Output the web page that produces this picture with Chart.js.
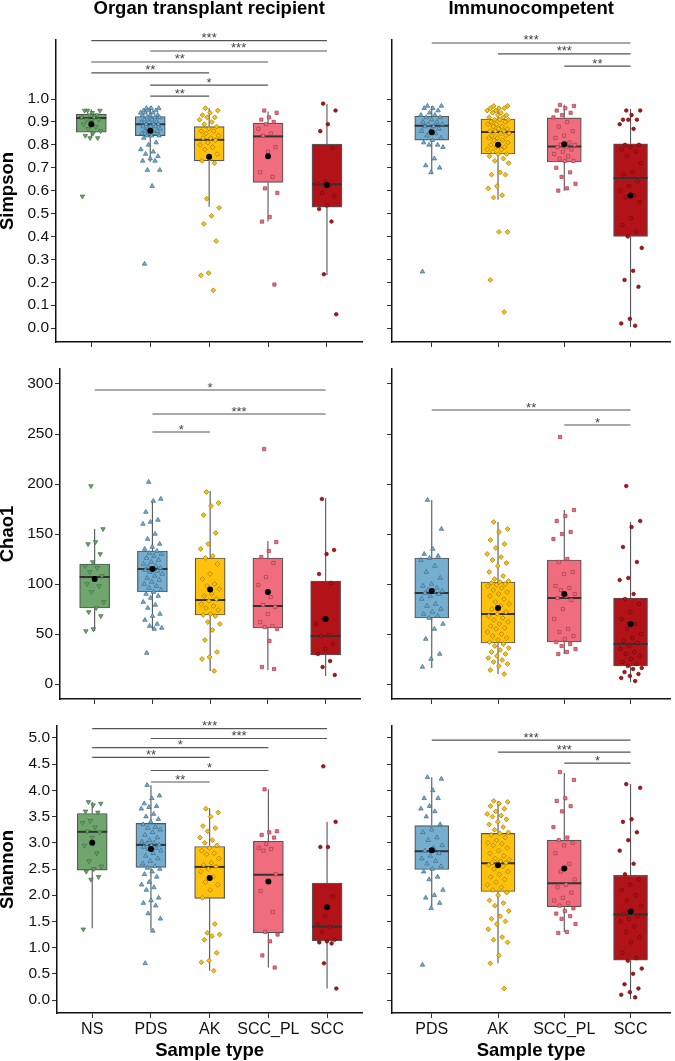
<!DOCTYPE html>
<html>
<head>
<meta charset="utf-8">
<script src="https://cdn.jsdelivr.net/npm/chart.js@4.4.1/dist/chart.umd.min.js"></script>
<style>
  body { margin: 0; background: #fff; width: 675px; height: 1061px; position: relative; overflow: hidden; }
  canvas { position: absolute; }
</style>
</head>
<body>
<canvas id="c0" style="left:0px;top:0px" width="367" height="355"></canvas>
<canvas id="c1" style="left:370px;top:0px" width="305" height="355"></canvas>
<canvas id="c2" style="left:0px;top:355px" width="365" height="357"></canvas>
<canvas id="c3" style="left:370px;top:355px" width="305" height="357"></canvas>
<canvas id="c4" style="left:0px;top:712px" width="367" height="349"></canvas>
<canvas id="c5" style="left:370px;top:712px" width="305" height="349"></canvas>
<script>
// ---- data ----
const groupsOtr = ['NS', 'PDS', 'AK', 'SCC_PL', 'SCC'];
const groupsIc = ['PDS', 'AK', 'SCC_PL', 'SCC'];

const simpsonTicks = [0, 0.1, 0.2, 0.3, 0.4, 0.5, 0.6, 0.7, 0.8, 0.9, 1.0];
const chaoTicks = [0, 50, 100, 150, 200, 250, 300];
const shannonTicks = [0, 0.5, 1.0, 1.5, 2.0, 2.5, 3.0, 3.5, 4.0, 4.5, 5.0];

// box stats: [lower whisker, q1, median, q3, upper whisker]
const simpsonOtrBox = [[0.83, 0.855, 0.917, 0.934, 0.955], [0.725, 0.84, 0.89, 0.924, 0.968], [0.53, 0.73, 0.822, 0.88, 0.96], [0.465, 0.636, 0.837, 0.895, 0.946], [0.232, 0.528, 0.628, 0.803, 0.978]];
const simpsonOtrMean = [0.89, 0.862, 0.748, 0.75, 0.625];
const simpsonIcBox = [[0.672, 0.821, 0.883, 0.925, 0.97], [0.56, 0.76, 0.856, 0.913, 0.968], [0.60, 0.725, 0.793, 0.918, 0.975], [0.005, 0.40, 0.655, 0.805, 0.957]];
const simpsonIcMean = [0.855, 0.80, 0.803, 0.579];

const chaoOtrBox = [[53, 76, 107, 120, 155], [55, 92, 115, 133, 184], [13, 69, 84, 126, 193], [14, 56, 78, 126, 143], [8, 29, 48, 103, 186]];
const chaoOtrMean = [105, 115, 94.5, 92, 65];
const chaoIcBox = [[16, 66, 91, 126, 184], [10, 41, 70, 102, 162], [30, 42, 86, 124, 174], [2, 18, 40, 86, 162]];
const chaoIcMean = [93, 76, 90, 60];

const shannonOtrBox = [[1.37, 2.48, 3.21, 3.56, 3.78], [1.33, 2.53, 2.96, 3.37, 4.1], [0.56, 1.94, 2.54, 2.93, 3.66], [0.62, 1.28, 2.39, 3.03, 4.02], [0.22, 1.13, 1.4, 2.23, 3.4]];
const shannonOtrMean = [3.0, 2.88, 2.33, 2.26, 1.77];
const shannonIcBox = [[1.75, 2.49, 2.84, 3.33, 4.25], [0.7, 2.07, 2.61, 3.18, 3.8], [1.3, 1.78, 2.23, 3.05, 4.33], [0.02, 0.76, 1.63, 2.38, 4.12]];
const shannonIcMean = [2.86, 2.57, 2.51, 1.69];

// individual samples per group
const simpsonOtrPts = [
  [0.95, 0.95, 0.94, 0.95, 0.93, 0.93, 0.92, 0.92, 0.91, 0.91, 0.90, 0.89, 0.88, 0.87, 0.86, 0.85, 0.84, 0.83, 0.83, 0.575],
  [0.96, 0.96, 0.96, 0.95, 0.95, 0.95, 0.94, 0.94, 0.94, 0.93, 0.93, 0.93, 0.92, 0.92, 0.92, 0.91, 0.91, 0.90, 0.90, 0.90, 0.89, 0.89, 0.89, 0.88, 0.88, 0.88, 0.87, 0.87, 0.86, 0.86, 0.86, 0.85, 0.85, 0.85, 0.84, 0.84, 0.84, 0.83, 0.81, 0.80, 0.78, 0.77, 0.76, 0.75, 0.74, 0.73, 0.73, 0.69, 0.69, 0.62, 0.28],
  [0.96, 0.95, 0.94, 0.93, 0.92, 0.92, 0.91, 0.90, 0.89, 0.88, 0.87, 0.86, 0.86, 0.85, 0.84, 0.83, 0.83, 0.82, 0.81, 0.80, 0.79, 0.78, 0.76, 0.74, 0.73, 0.72, 0.565, 0.525, 0.49, 0.455, 0.38, 0.24, 0.23, 0.165],
  [0.95, 0.94, 0.92, 0.91, 0.90, 0.89, 0.87, 0.85, 0.84, 0.79, 0.77, 0.68, 0.66, 0.61, 0.59, 0.485, 0.465, 0.19],
  [0.98, 0.95, 0.89, 0.86, 0.785, 0.64, 0.63, 0.625, 0.59, 0.575, 0.535, 0.52, 0.465, 0.235, 0.06]
];
const simpsonIcPts = [
  [0.97, 0.97, 0.96, 0.96, 0.95, 0.94, 0.93, 0.93, 0.92, 0.92, 0.91, 0.90, 0.90, 0.89, 0.89, 0.88, 0.88, 0.87, 0.86, 0.86, 0.85, 0.84, 0.83, 0.82, 0.81, 0.80, 0.80, 0.79, 0.74, 0.71, 0.70, 0.68, 0.246],
  [0.97, 0.97, 0.96, 0.96, 0.96, 0.95, 0.95, 0.94, 0.94, 0.93, 0.93, 0.92, 0.92, 0.91, 0.91, 0.91, 0.90, 0.90, 0.89, 0.89, 0.88, 0.88, 0.87, 0.87, 0.86, 0.86, 0.86, 0.85, 0.85, 0.84, 0.84, 0.83, 0.83, 0.82, 0.82, 0.81, 0.80, 0.80, 0.79, 0.79, 0.78, 0.78, 0.77, 0.76, 0.76, 0.75, 0.74, 0.73, 0.72, 0.68, 0.67, 0.67, 0.62, 0.61, 0.58, 0.57, 0.42, 0.42, 0.21, 0.07],
  [0.975, 0.97, 0.96, 0.95, 0.94, 0.93, 0.92, 0.90, 0.88, 0.86, 0.84, 0.83, 0.81, 0.80, 0.80, 0.79, 0.79, 0.78, 0.77, 0.76, 0.75, 0.74, 0.73, 0.73, 0.70, 0.68, 0.66, 0.63, 0.61, 0.60],
  [0.95, 0.95, 0.93, 0.91, 0.91, 0.91, 0.89, 0.87, 0.80, 0.80, 0.79, 0.78, 0.77, 0.75, 0.72, 0.68, 0.67, 0.64, 0.62, 0.60, 0.58, 0.57, 0.55, 0.48, 0.45, 0.42, 0.40, 0.35, 0.25, 0.21, 0.18, 0.04, 0.02, 0.01]
];
const chaoOtrPts = [
  [198, 155, 142, 140, 130, 122, 118, 116, 112, 108, 105, 100, 98, 92, 82, 76, 72, 68, 55, 53],
  [202, 185, 183, 172, 164, 162, 160, 150, 145, 140, 137, 135, 133, 131, 130, 128, 126, 124, 122, 120, 118, 117, 116, 115, 114, 113, 112, 110, 108, 106, 104, 102, 100, 98, 96, 94, 92, 90, 88, 86, 82, 79, 76, 70, 68, 64, 60, 58, 56, 55, 31],
  [192, 181, 178, 169, 151, 140, 135, 128, 126, 120, 110, 105, 100, 98, 95, 90, 88, 85, 83, 80, 78, 76, 74, 70, 69, 68, 62, 60, 54, 44, 32, 27, 25, 13],
  [235, 142, 133, 127, 121, 107, 99, 87, 79, 77, 70, 62, 58, 57, 55, 43, 17, 15],
  [185, 134, 130, 110, 101, 65, 60, 49, 48, 40, 35, 30, 23, 17, 9]
];
const chaoIcPts = [
  [184, 155, 135, 130, 128, 126, 124, 118, 112, 106, 100, 98, 96, 94, 93, 92, 91, 90, 88, 85, 80, 78, 75, 72, 70, 68, 66, 60, 55, 45, 30, 25, 17],
  [162, 155, 152, 144, 140, 136, 130, 127, 124, 121, 118, 112, 108, 105, 103, 102, 101, 100, 99, 98, 96, 94, 92, 90, 88, 85, 82, 80, 78, 75, 72, 70, 68, 66, 64, 62, 60, 58, 56, 55, 52, 50, 48, 46, 44, 42, 40, 38, 36, 34, 32, 30, 28, 26, 24, 22, 20, 18, 14, 10],
  [247, 174, 168, 163, 152, 150, 145, 125, 122, 112, 110, 98, 96, 94, 90, 88, 86, 84, 75, 65, 55, 52, 48, 45, 42, 40, 38, 35, 32, 30],
  [198, 163, 157, 137, 122, 106, 104, 90, 85, 80, 72, 65, 60, 55, 50, 46, 43, 41, 38, 35, 32, 30, 28, 25, 22, 20, 18, 16, 15, 12, 10, 8, 6, 3]
];
const shannonOtrPts = [
  [3.78, 3.75, 3.72, 3.6, 3.58, 3.42, 3.38, 3.3, 3.22, 3.2, 3.1, 2.95, 2.8, 2.65, 2.55, 2.5, 2.45, 2.35, 2.3, 1.35],
  [4.1, 3.9, 3.85, 3.75, 3.7, 3.68, 3.65, 3.55, 3.5, 3.45, 3.4, 3.35, 3.3, 3.28, 3.25, 3.2, 3.15, 3.1, 3.05, 3.02, 3.0, 2.98, 2.96, 2.95, 2.92, 2.9, 2.88, 2.85, 2.8, 2.75, 2.7, 2.65, 2.6, 2.55, 2.52, 2.5, 2.45, 2.4, 2.35, 2.25, 2.2, 2.15, 2.1, 1.95, 1.9, 1.85, 1.8, 1.65, 1.55, 1.32, 0.7],
  [3.65, 3.58, 3.5, 3.32, 3.28, 3.22, 3.1, 3.05, 3.0, 2.95, 2.9, 2.85, 2.8, 2.78, 2.7, 2.62, 2.58, 2.55, 2.5, 2.45, 2.35, 2.25, 2.2, 2.1, 1.95, 1.45, 1.28, 1.25, 1.22, 1.15, 0.9, 0.75, 0.72, 0.56],
  [4.02, 3.22, 3.2, 3.15, 3.1, 2.98, 2.9, 2.88, 2.85, 2.4, 2.25, 2.08, 1.68, 1.3, 1.25, 1.12, 0.85, 0.62],
  [4.46, 3.4, 2.92, 2.92, 1.98, 1.6, 1.45, 1.4, 1.3, 1.15, 1.12, 1.1, 1.08, 0.7, 0.22]
];
const shannonIcPts = [
  [4.25, 4.22, 4.0, 3.85, 3.85, 3.7, 3.65, 3.6, 3.5, 3.35, 3.25, 3.2, 3.1, 3.05, 2.95, 2.9, 2.85, 2.8, 2.75, 2.7, 2.65, 2.6, 2.55, 2.5, 2.45, 2.35, 2.3, 2.1, 2.0, 1.95, 1.85, 1.75, 0.67],
  [3.8, 3.78, 3.75, 3.7, 3.65, 3.6, 3.55, 3.52, 3.5, 3.45, 3.4, 3.35, 3.3, 3.25, 3.2, 3.18, 3.15, 3.1, 3.05, 3.0, 2.98, 2.95, 2.9, 2.85, 2.8, 2.75, 2.7, 2.68, 2.65, 2.62, 2.62, 2.6, 2.58, 2.55, 2.5, 2.45, 2.4, 2.35, 2.3, 2.25, 2.2, 2.15, 2.1, 2.05, 2.0, 1.9, 1.85, 1.8, 1.7, 1.6, 1.55, 1.5, 1.45, 1.35, 1.2, 1.15, 1.1, 0.85, 0.7, 0.22],
  [4.35, 4.2, 3.85, 3.8, 3.7, 3.6, 3.3, 3.1, 3.05, 3.0, 2.95, 2.8, 2.6, 2.45, 2.3, 2.2, 2.15, 2.05, 1.95, 1.9, 1.85, 1.8, 1.75, 1.7, 1.65, 1.6, 1.55, 1.45, 1.3, 1.28],
  [4.12, 4.05, 3.45, 3.4, 3.2, 3.05, 2.85, 2.6, 2.4, 2.3, 2.2, 2.1, 2.0, 1.9, 1.8, 1.7, 1.65, 1.6, 1.55, 1.5, 1.4, 1.3, 1.2, 1.1, 0.9, 0.8, 0.75, 0.6, 0.5, 0.3, 0.22, 0.15, 0.1, 0.05]
];

// significance brackets: [from group, to group, height, label]
const simpsonOtrSig = [[0, 4, 1.255, '***'], [1, 4, 1.21, '***'], [0, 3, 1.162, '**'], [0, 2, 1.114, '**'], [1, 3, 1.061, '*'], [1, 2, 1.013, '**']];
const simpsonIcSig = [[0, 3, 1.245, '***'], [1, 3, 1.197, '***'], [2, 3, 1.144, '**']];
const chaoOtrSig = [[0, 4, 294, '*'], [1, 4, 270, '***'], [1, 2, 252, '*']];
const chaoIcSig = [[0, 3, 274, '**'], [2, 3, 259, '*']];
const shannonOtrSig = [[0, 4, 5.18, '***'], [1, 4, 4.99, '***'], [0, 3, 4.815, '*'], [0, 2, 4.63, '**'], [1, 3, 4.38, '*'], [1, 2, 4.16, '**']];
const shannonIcSig = [[0, 3, 4.96, '***'], [1, 3, 4.73, '***'], [2, 3, 4.52, '*']];

// ---- styling ----
Chart.defaults.font.family = '"Liberation Sans", Arial, Helvetica, sans-serif';
Chart.defaults.color = '#111';

const groupStyle = {
  NS:     { fill: '#6fa66d', edge: '#3d6b3d', shape: 'triangle', rot: 180, r: 2.6 },
  PDS:    { fill: '#76aed0', edge: '#3b6a86', shape: 'triangle', rot: 0,   r: 2.6 },
  AK:     { fill: '#ffc20c', edge: '#9a7400', shape: 'rectRot',  rot: 0,   r: 2.4 },
  SCC_PL: { fill: '#f06d7e', edge: '#a53c4b', shape: 'rect',     rot: 0,   r: 2.3 },
  SCC:    { fill: '#b11318', edge: '#6b0a0d', shape: 'circle',   rot: 0,   r: 1.8 }
};

// spread of the jittered points around each box centre
function jit(k) {
  return ((k * 0.618034 + 0.31) % 1 - 0.5) * 0.34;
}

function boxParts(p) {
  return {
    id: 'boxParts',
    beforeDatasetsDraw(chart) {
      const { ctx, scales: { x, y } } = chart;
      ctx.save();
      ctx.strokeStyle = '#555';
      ctx.lineWidth = 1.1;
      p.box.forEach((b, i) => {
        const px = x.getPixelForValue(i);
        ctx.beginPath();
        ctx.moveTo(px, y.getPixelForValue(b[0]));
        ctx.lineTo(px, y.getPixelForValue(b[1]));
        ctx.moveTo(px, y.getPixelForValue(b[3]));
        ctx.lineTo(px, y.getPixelForValue(b[4]));
        ctx.stroke();
      });
      ctx.restore();
    },
    afterDatasetDraw(chart, args) {
      if (args.index !== 0) return;
      const { ctx, scales: { x, y } } = chart;
      ctx.save();
      ctx.strokeStyle = '#333';
      ctx.lineWidth = 2;
      p.box.forEach((b, i) => {
        const px = x.getPixelForValue(i);
        const py = y.getPixelForValue(b[2]);
        ctx.beginPath();
        ctx.moveTo(px - p.bw / 2, py);
        ctx.lineTo(px + p.bw / 2, py);
        ctx.stroke();
      });
      ctx.restore();
    },
    afterDatasetsDraw(chart) {
      const { ctx, scales: { x, y } } = chart;
      ctx.save();
      ctx.strokeStyle = '#555';
      ctx.fillStyle = '#444';
      ctx.lineWidth = 1.2;
      ctx.font = '13px "Liberation Sans", Arial, sans-serif';
      ctx.textAlign = 'center';
      ctx.textBaseline = 'alphabetic';
      p.sig.forEach(s => {
        const x1 = x.getPixelForValue(s[0]);
        const x2 = x.getPixelForValue(s[1]);
        const py = y.getPixelForValue(s[2]);
        ctx.beginPath();
        ctx.moveTo(x1, py);
        ctx.lineTo(x2, py);
        ctx.stroke();
        ctx.fillText(s[3], (x1 + x2) / 2, py + 1.5);
      });
      ctx.restore();
    }
  };
}

function makeChart(id, p) {
  const datasets = [{
    type: 'bar',
    order: 3,
    data: p.groups.map((g, i) => ({ x: i, y: [p.box[i][1], p.box[i][3]] })),
    backgroundColor: p.groups.map(g => groupStyle[g].fill),
    borderColor: '#555',
    borderWidth: 1.2,
    borderSkipped: false,
    barThickness: p.bw
  }];
  p.groups.forEach((g, i) => {
    const st = groupStyle[g];
    datasets.push({
      type: 'scatter',
      order: 2,
      data: p.pts[i].map((v, k) => ({ x: i + jit(k), y: v })),
      pointStyle: st.shape,
      rotation: st.rot,
      pointRadius: st.r,
      backgroundColor: st.fill,
      borderColor: st.edge,
      borderWidth: 0.7
    });
  });
  datasets.push({
    type: 'scatter',
    order: 1,
    data: p.mean.map((m, i) => ({ x: i, y: m })),
    pointRadius: 3,
    backgroundColor: '#000',
    borderColor: '#000',
    borderWidth: 0
  });

  new Chart(document.getElementById(id), {
    type: 'scatter',
    data: { datasets },
    options: {
      responsive: false,
      animation: false,
      events: [],
      layout: { padding: { top: p.padTop, left: 0, right: 0, bottom: 0 } },
      plugins: {
        legend: { display: false },
        tooltip: { enabled: false },
        title: {
          display: !!p.title,
          text: p.title || '',
          fullSize: false,
          color: '#000',
          font: { size: 18.5, weight: 'bold', lineHeight: 1 },
          padding: { top: 0, bottom: 21.5 }
        }
      },
      scales: {
        x: {
          type: 'linear',
          bounds: 'data',
          offset: false,
          min: -0.6,
          max: p.groups.length - 0.4,
          afterBuildTicks: s => { s.ticks = p.groups.map((g, i) => ({ value: i })); },
          afterFit: s => { s.height = p.xH; },
          ticks: {
            callback: v => (p.xTitle ? p.groups[v] : ''),
            font: { size: 16 },
            color: '#111',
            padding: 2,
            maxRotation: 0,
            autoSkip: false
          },
          grid: { offset: false, drawOnChartArea: false, drawTicks: true, tickLength: 5, tickColor: '#333', tickWidth: 1 },
          border: { display: true, color: '#111', width: 1.5 },
          title: {
            display: !!p.xTitle,
            text: 'Sample type',
            color: '#000',
            font: { size: 18.5, weight: 'bold', lineHeight: 1 },
            padding: { top: 0, bottom: 1 }
          }
        },
        y: {
          type: 'linear',
          bounds: 'data',
          offset: false,
          beginAtZero: false,
          min: p.range[0],
          max: p.range[1],
          afterBuildTicks: s => { s.ticks = p.ticks.map(v => ({ value: v })); },
          afterFit: s => { s.width = p.yW; },
          ticks: {
            callback: v => (p.yTitle ? p.fmt(v) : ''),
            font: { size: 15.5 },
            color: '#111',
            padding: 2,
            autoSkip: false
          },
          grid: { offset: false, drawOnChartArea: false, drawTicks: true, tickLength: 5, tickColor: '#333', tickWidth: 1 },
          border: { display: true, color: '#111', width: 1.5 },
          title: {
            display: !!p.yTitle,
            text: p.yTitle || '',
            color: '#000',
            font: { size: 18.5, weight: 'bold', lineHeight: 0.9 },
            padding: { top: 0, bottom: 0 }
          }
        }
      }
    },
    plugins: [boxParts(p)]
  });
}

const fmt1 = v => v.toFixed(1);
const fmt0 = v => String(v);

makeChart('c0', { groups: groupsOtr, box: simpsonOtrBox, mean: simpsonOtrMean, pts: simpsonOtrPts, sig: simpsonOtrSig,
  ticks: simpsonTicks, range: [-0.061, 1.258], fmt: fmt1, yTitle: 'Simpson', title: 'Organ transplant recipient',
  yW: 56, xH: 13, padTop: 0, bw: 30 });
makeChart('c1', { groups: groupsIc, box: simpsonIcBox, mean: simpsonIcMean, pts: simpsonIcPts, sig: simpsonIcSig,
  ticks: simpsonTicks, range: [-0.061, 1.258], fmt: fmt1, title: 'Immunocompetent',
  yW: 22, xH: 13, padTop: 0, bw: 34 });
makeChart('c2', { groups: groupsOtr, box: chaoOtrBox, mean: chaoOtrMean, pts: chaoOtrPts, sig: chaoOtrSig,
  ticks: chaoTicks, range: [-15, 315], fmt: fmt0, yTitle: 'Chao1',
  yW: 60, xH: 13, padTop: 14, bw: 30 });
makeChart('c3', { groups: groupsIc, box: chaoIcBox, mean: chaoIcMean, pts: chaoIcPts, sig: chaoIcSig,
  ticks: chaoTicks, range: [-15, 315], fmt: fmt0,
  yW: 22, xH: 13, padTop: 14, bw: 34 });
makeChart('c4', { groups: groupsOtr, box: shannonOtrBox, mean: shannonOtrMean, pts: shannonOtrPts, sig: shannonOtrSig,
  ticks: shannonTicks, range: [-0.248, 5.229], fmt: fmt1, yTitle: 'Shannon', xTitle: true,
  yW: 57, xH: 48, padTop: 14, bw: 30 });
makeChart('c5', { groups: groupsIc, box: shannonIcBox, mean: shannonIcMean, pts: shannonIcPts, sig: shannonIcSig,
  ticks: shannonTicks, range: [-0.248, 5.229], fmt: fmt1, xTitle: true,
  yW: 22, xH: 48, padTop: 14, bw: 34 });
</script>
</body>
</html>
